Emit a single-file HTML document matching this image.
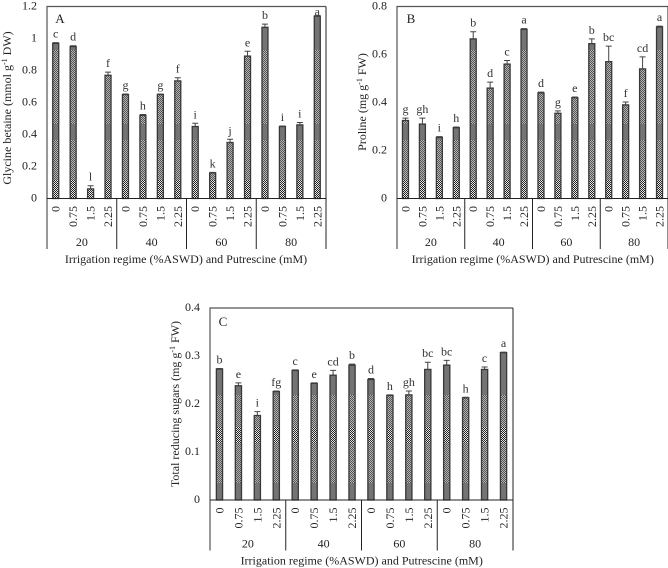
<!DOCTYPE html>
<html lang="en">
<head>
<meta charset="utf-8">
<title>Irrigation regime and putrescine charts</title>
<style>
html,body{margin:0;padding:0;background:#fff;width:668px;height:568px;overflow:hidden}
svg{display:block}
text{font-family:"Liberation Serif",serif;font-size:12px;fill:#222}
</style>
</head>
<body>
<svg id="chart" width="668" height="568" viewBox="0 0 668 568" xmlns="http://www.w3.org/2000/svg">
<defs>
<pattern id="ck-strong" width="2" height="2" patternUnits="userSpaceOnUse"><rect width="2" height="2" fill="#e8e8e8"/><rect width="1" height="1" fill="#222"/><rect x="1" y="1" width="1" height="1" fill="#222"/></pattern>
<pattern id="ck-mild" width="2" height="2" patternUnits="userSpaceOnUse"><rect width="2" height="2" fill="#b4b4b4"/><rect width="1" height="1" fill="#555"/><rect x="1" y="1" width="1" height="1" fill="#555"/></pattern>
<pattern id="bars-top" x="0" y="0" width="4" height="568" patternUnits="userSpaceOnUse">
<rect y="0" width="4" height="50" fill="#747474"/>
<rect y="50" width="4" height="74" fill="url(#ck-mild)"/>
<rect y="124" width="4" height="16" fill="#747474"/>
<rect y="140" width="4" height="40" fill="url(#ck-mild)"/>
<rect y="180" width="4" height="20" fill="url(#ck-strong)"/>
</pattern>
<pattern id="bars-bottom" x="0" y="0" width="4" height="568" patternUnits="userSpaceOnUse">
<rect y="300" width="4" height="95" fill="#747474"/>
<rect y="395" width="4" height="32" fill="url(#ck-mild)"/>
<rect y="427" width="4" height="16" fill="url(#ck-strong)"/>
<rect y="443" width="4" height="40" fill="url(#ck-mild)"/>
<rect y="483" width="4" height="18" fill="#747474"/>
</pattern>
</defs>
</svg>
<script>
const doses = ["0", "0.75", "1.5", "2.25"];
const groups = ["20", "40", "60", "80"];
const xTitle = "Irrigation regime (%ASWD) and Putrescine (mM)";

const ticksA = [0, 0.2, 0.4, 0.6, 0.8, 1, 1.2];
const valuesA = [0.97, 0.95, 0.06, 0.77, 0.65, 0.52, 0.65, 0.735, 0.45, 0.16, 0.35, 0.89, 1.07, 0.45, 0.46, 1.14];
const errorsA = [0.004, 0.005, 0.02, 0.02, 0.003, 0.005, 0.003, 0.02, 0.02, 0.003, 0.02, 0.03, 0.02, 0.003, 0.015, 0.003];
const lettersA = ["c", "d", "l", "f", "g", "h", "g", "f", "i", "k", "j", "e", "b", "i", "i", "a"];

const ticksB = [0, 0.2, 0.4, 0.6, 0.8];
const valuesB = [0.325, 0.31, 0.255, 0.295, 0.665, 0.46, 0.56, 0.705, 0.44, 0.355, 0.42, 0.645, 0.57, 0.39, 0.54, 0.715];
const errorsB = [0.01, 0.025, 0.003, 0.003, 0.03, 0.025, 0.015, 0.003, 0.003, 0.01, 0.003, 0.02, 0.065, 0.012, 0.05, 0.003];
const lettersB = ["g", "gh", "i", "h", "b", "d", "c", "a", "d", "g", "e", "b", "bc", "f", "cd", "a"];

const ticksC = [0, 0.1, 0.2, 0.3, 0.4];
const valuesC = [0.273, 0.238, 0.176, 0.226, 0.27, 0.243, 0.26, 0.281, 0.251, 0.218, 0.219, 0.272, 0.281, 0.213, 0.272, 0.307];
const errorsC = [0.001, 0.006, 0.008, 0.001, 0.001, 0.001, 0.01, 0.002, 0.002, 0.001, 0.008, 0.015, 0.01, 0.001, 0.005, 0.001];
const lettersC = ["b", "e", "i", "fg", "c", "e", "cd", "b", "d", "h", "gh", "bc", "bc", "h", "c", "a"];

const svg = document.getElementById("chart");
const NS = "http://www.w3.org/2000/svg";

function make(tag, attrs, text) {
  const el = document.createElementNS(NS, tag);
  for (const k in attrs) el.setAttribute(k, attrs[k]);
  if (text !== undefined) el.textContent = text;
  svg.appendChild(el);
  return el;
}

function drawPanel(cfg) {
  const p = cfg.id;
  const yMax = cfg.ticks[cfg.ticks.length - 1];
  const yScale = v => cfg.bottom - (v / yMax) * (cfg.bottom - cfg.top);
  const n = cfg.values.length;
  const step = (cfg.right - cfg.left) / n;
  const xScale = i => cfg.left + step * (i + 0.5);
  const barW = cfg.barW;

  cfg.values.forEach((v, i) => {
    const x = xScale(i);
    const y = yScale(v);
    const bar = make("rect", { x: x - barW / 2, y: y, width: barW, height: cfg.bottom - y, fill: cfg.fill, stroke: "#383838", "stroke-width": 1.3 });
    
    

    const errTop = yScale(v + cfg.errors[i]);
    const err = make("path", { d: "M" + x + " " + y + "V" + errTop + "M" + (x - 3) + " " + errTop + "H" + (x + 3), stroke: "#444", "stroke-width": 1, fill: "none" });
    
    

    const lab = make("text", { x: x, y: Math.max(errTop - 5, cfg.top + 9), "text-anchor": "middle", style: "fill:#333" }, cfg.letters[i]);
    
    

    const tx = make("text", { transform: "translate(" + (x + 4) + " " + (cfg.bottom + 7.5) + ") rotate(-90)", "text-anchor": "end" }, doses[i % doses.length]);
    
    
  });

  const frame = make("path", { d: "M" + cfg.left + " " + cfg.axisBottom + "V" + cfg.top + "H" + cfg.right, stroke: "#555", "stroke-width": 1.2, fill: "none" });
  
  

  const base = make("line", { x1: cfg.left, x2: cfg.right, y1: cfg.bottom, y2: cfg.bottom, stroke: "#222", "stroke-width": 1 });
  
  

  const rightEdge = make("line", { x1: cfg.right, x2: cfg.right, y1: cfg.top, y2: cfg.axisBottom, stroke: "#222", "stroke-width": 1 });
  
  

  groups.forEach((g, i) => {
    const gw = (cfg.right - cfg.left) / groups.length;
    const gx = cfg.left + gw * i;
    if (i > 0) {
      const div = make("line", { x1: gx, x2: gx, y1: cfg.bottom, y2: cfg.axisBottom, stroke: "#222", "stroke-width": 1 });
      
      
    }
    const gl = make("text", { x: gx + gw / 2, y: cfg.axisBottom - 3, "text-anchor": "middle" }, g);
    
    
  });

  cfg.ticks.forEach(t => {
    const tl = make("text", { x: cfg.left - 10, y: yScale(t) + 3, "text-anchor": "end" }, String(t));
    
    
  });

  const xt = make("text", { x: cfg.xTitleX, y: cfg.axisBottom + 14, "text-anchor": "middle" }, xTitle);
  
  

  const yt = make("text", { transform: "translate(" + cfg.yTitleX + " " + cfg.yTitleY + ") rotate(-90)", "text-anchor": "middle" });
  
  
  const s1 = document.createElementNS(NS, "tspan");
  s1.textContent = cfg.yTitle[0];
  const s2 = document.createElementNS(NS, "tspan");
  s2.textContent = "-1";
  s2.setAttribute("dy", "-4");
  s2.setAttribute("style", "font-size:8px");
  const s3 = document.createElementNS(NS, "tspan");
  s3.textContent = cfg.yTitle[1];
  s3.setAttribute("dy", "4");
  yt.append(s1, s2, s3);

  const pl = make("text", { x: cfg.letterX, y: cfg.letterY, "text-anchor": "middle", style: "font-size:13px" }, cfg.label);
  
  
}

drawPanel({ id: "a", label: "A", left: 47, right: 326, top: 6.5, bottom: 198.5, axisBottom: 249, barW: 6, fill: "url(#bars-top)",
  ticks: ticksA, values: valuesA, errors: errorsA, letters: lettersA,
  yTitle: ["Glycine betaine (mmol g", " DW)"], yTitleX: 11, yTitleY: 108, xTitleX: 186, letterX: 60, letterY: 23 });
drawPanel({ id: "b", label: "B", left: 397, right: 668, top: 6.5, bottom: 198.5, axisBottom: 249, barW: 6, fill: "url(#bars-top)",
  ticks: ticksB, values: valuesB, errors: errorsB, letters: lettersB,
  yTitle: ["Proline (mg g", " FW)"], yTitleX: 366, yTitleY: 102, xTitleX: 532.7, letterX: 411, letterY: 23 });
drawPanel({ id: "c", label: "C", left: 210, right: 513, top: 308, bottom: 500, axisBottom: 550.5, barW: 6.2, fill: "url(#bars-bottom)",
  ticks: ticksC, values: valuesC, errors: errorsC, letters: lettersC,
  yTitle: ["Total reducing sugars (mg g", " FW)"], yTitleX: 179, yTitleY: 404, xTitleX: 361.7, letterX: 223, letterY: 326 });
</script>
</body>
</html>
